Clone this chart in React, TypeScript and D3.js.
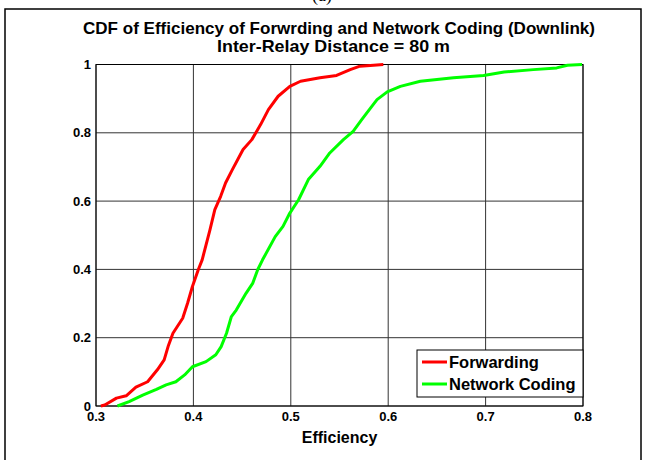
import * as d3 from 'd3';

// values
const fwdEff = [0.305, 0.309, 0.321, 0.331, 0.341, 0.353, 0.363, 0.370, 0.374, 0.379, 0.389, 0.394, 0.399, 0.405, 0.409, 0.417, 0.422, 0.428, 0.433, 0.440, 0.451, 0.460, 0.469, 0.477, 0.487, 0.499, 0.510, 0.530, 0.547, 0.561, 0.571, 0.585, 0.595];
const fwdCdf = [0, 0.003, 0.023, 0.030, 0.055, 0.071, 0.106, 0.135, 0.174, 0.213, 0.257, 0.301, 0.350, 0.399, 0.428, 0.516, 0.575, 0.614, 0.653, 0.692, 0.751, 0.780, 0.824, 0.868, 0.907, 0.936, 0.951, 0.961, 0.968, 0.985, 0.995, 0.998, 1.0];

const ncEff = [0.322, 0.334, 0.348, 0.362, 0.372, 0.382, 0.391, 0.399, 0.413, 0.423, 0.4285, 0.434, 0.439, 0.444, 0.454, 0.461, 0.466, 0.471, 0.484, 0.492, 0.499, 0.508, 0.518, 0.530, 0.540, 0.554, 0.564, 0.573, 0.582, 0.5885, 0.599, 0.6125, 0.633, 0.667, 0.698, 0.719, 0.749, 0.773, 0.784, 0.799];
const ncCdf = [0, 0.013, 0.032, 0.049, 0.062, 0.071, 0.091, 0.115, 0.130, 0.150, 0.174, 0.213, 0.262, 0.281, 0.330, 0.360, 0.399, 0.428, 0.496, 0.526, 0.565, 0.604, 0.663, 0.702, 0.741, 0.780, 0.804, 0.839, 0.873, 0.897, 0.920, 0.936, 0.951, 0.961, 0.968, 0.978, 0.985, 0.990, 0.998, 1.0];

const xTicks = [0.3, 0.4, 0.5, 0.6, 0.7, 0.8];
const yTicks = [0, 0.2, 0.4, 0.6, 0.8, 1];
const seriesNames = ['Forwarding', 'Network Coding'];
const seriesColors = ['#ff0000', '#00ff00'];

const W = 645;
const H = 460;
const font = '"Liberation Sans", Arial, Helvetica, sans-serif';

export default function App() {
  const left = 96, right = 583, top = 64.5, bottom = 406;
  const x = d3.scaleLinear().domain([0.3, 0.8]).range([left, right]);
  const y = d3.scaleLinear().domain([0, 1]).range([bottom, top]);

  const line = d3.line<[number, number]>()
    .x(d => x(d[0]))
    .y(d => y(d[1]));

  const series = [
    fwdEff.map((e, i) => [e, fwdCdf[i]] as [number, number]),
    ncEff.map((e, i) => [e, ncCdf[i]] as [number, number]),
  ];

  // legend box
  const lg = { x: 417, y: 350, w: 166, h: 47 };
  const cx = (83 + 595) / 2;

  return (
    <svg width={W} height={H} style={{ position: 'absolute', left: 0, top: 0, background: '#fff' }}>
      <rect x={0} y={0} width={W} height={H} fill="#fff" />
      {/* clipped caption above the frame */}
      <text x={322} y={1} textAnchor="middle" fontFamily="'Liberation Serif', serif" fontSize={18}>(a)</text>
      {/* outer frame */}
      <rect x={5} y={9} width={636} height={470} fill="none" stroke="#000" strokeWidth={1.5} />

      {/* grid */}
      {xTicks.map(t => (
        <line key={'gx' + t} x1={x(t)} x2={x(t)} y1={top} y2={bottom} stroke="#333" strokeWidth={1} />
      ))}
      {yTicks.map(t => (
        <line key={'gy' + t} x1={left} x2={right} y1={y(t)} y2={y(t)} stroke="#333" strokeWidth={1} />
      ))}
      <rect x={left} y={top} width={right - left} height={bottom - top} fill="none" stroke="#000" strokeWidth={1} />

      {/* curves */}
      {series.map((s, i) => (
        <path key={i} d={line(s) || ''} fill="none" stroke={seriesColors[i]} strokeWidth={3} strokeLinejoin="round" />
      ))}

      {/* tick labels */}
      {xTicks.map(t => (
        <text key={'tx' + t} x={x(t)} y={bottom + 15} textAnchor="middle" fontFamily={font} fontWeight="bold" fontSize={13}>
          {d3.format('.1f')(t)}
        </text>
      ))}
      {yTicks.map(t => (
        <text key={'ty' + t} x={left - 5} y={y(t) + 4.5} textAnchor="end" fontFamily={font} fontWeight="bold" fontSize={13}>
          {t === 0 || t === 1 ? String(t) : d3.format('.1f')(t)}
        </text>
      ))}

      {/* titles */}
      <text x={cx} y={34} textAnchor="middle" fontFamily={font} fontWeight="bold" fontSize={16.5} textLength={512} lengthAdjust="spacingAndGlyphs">
        CDF of Efficiency of Forwrding and Network Coding (Downlink)
      </text>
      <text x={(217 + 450) / 2} y={51.5} textAnchor="middle" fontFamily={font} fontWeight="bold" fontSize={16.5} textLength={233} lengthAdjust="spacingAndGlyphs">
        Inter-Relay Distance = 80 m
      </text>
      <text x={(left + right) / 2} y={443} textAnchor="middle" fontFamily={font} fontWeight="bold" fontSize={16}>
        Efficiency
      </text>

      {/* legend */}
      <rect x={lg.x} y={lg.y} width={lg.w} height={lg.h} fill="#fff" stroke="#000" strokeWidth={1} />
      {seriesNames.map((n, i) => (
        <g key={n}>
          <line x1={lg.x + 5} x2={lg.x + 30} y1={lg.y + 12 + i * 22} y2={lg.y + 12 + i * 22} stroke={seriesColors[i]} strokeWidth={3} />
          <text x={lg.x + 32} y={lg.y + 17.5 + i * 22} fontFamily={font} fontWeight="bold" fontSize={16.5}>{n}</text>
        </g>
      ))}
    </svg>
  );
}
